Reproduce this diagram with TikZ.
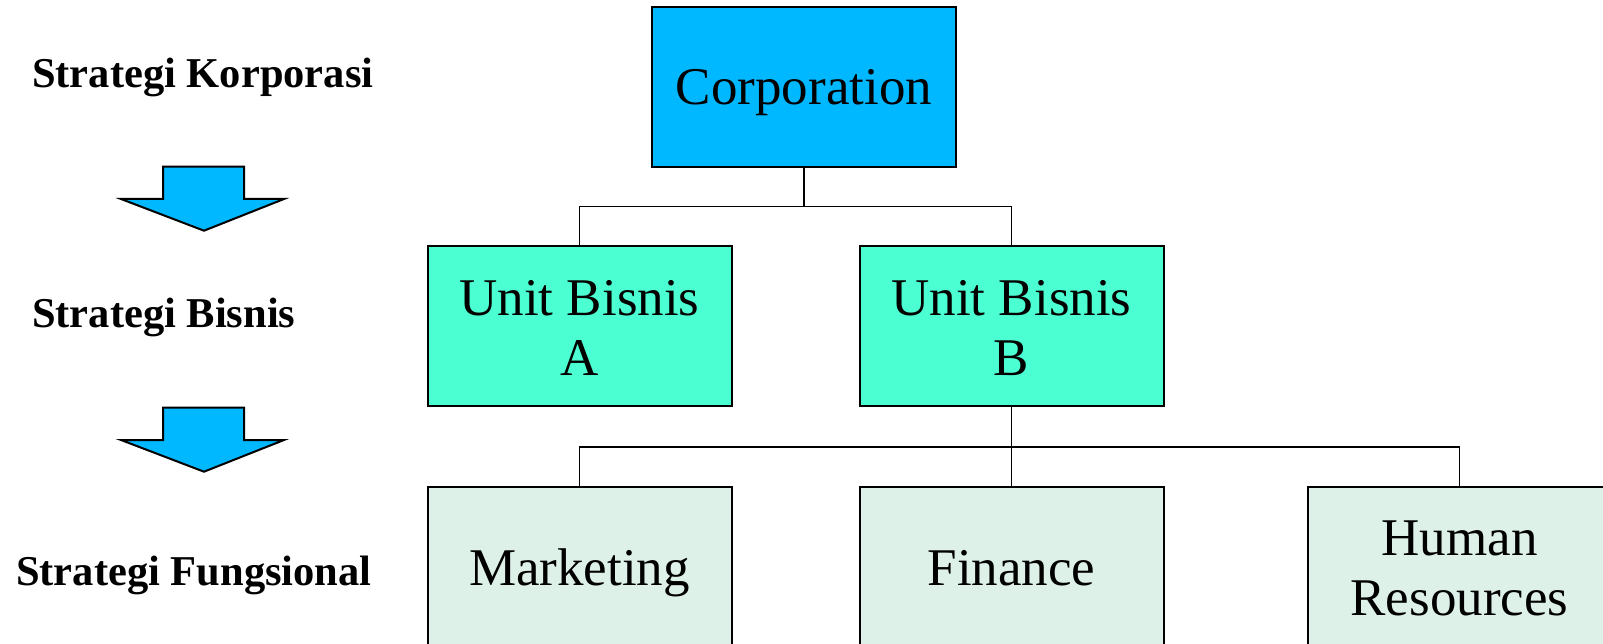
\documentclass[tikz,border=0pt]{standalone}
\usepackage{fontspec}
\setmainfont{Liberation Serif}
\definecolor{corpblue}{RGB}{0,184,255}
\definecolor{unitgreen}{RGB}{75,255,210}
\definecolor{funcgreen}{RGB}{221,241,232}
\begin{document}
\begin{tikzpicture}[x=1pt,y=-1pt,
  box/.style={draw=black,line width=2pt,inner sep=0pt,minimum width=304pt,
    align=center,font=\fontsize{53}{60}\selectfont},
  lvl/.style={anchor=base west,inner sep=0pt,font=\fontsize{42.5}{50}\selectfont\bfseries},
  conn/.style={draw=black,line width=1.6pt},
  bigarrow/.style={fill=corpblue,draw=black,line width=2pt,line join=miter}]
\useasboundingbox (0,0) rectangle (1603,644);
\clip (0,0) rectangle (1603,644);
\fill[white] (0,0) rectangle (1603,644);
% boxes
\node[box,fill=corpblue,minimum height=160pt,text height=36pt,text depth=0pt] (corp) at (804,87) {Corporation};
\node[box,fill=unitgreen,minimum height=160pt,text height=98pt,text depth=0pt] (ua) at (579.5,326) {Unit Bisnis\\A};
\node[box,fill=unitgreen,minimum height=160pt,text height=98pt,text depth=0pt] (ub) at (1011.5,326) {Unit Bisnis\\B};
\node[box,fill=funcgreen,minimum height=200pt,text height=0pt,text depth=4pt] (mk) at (579.5,587) {Marketing};
\node[box,fill=funcgreen,minimum height=200pt,text height=0pt,text depth=4pt] (fin) at (1011.5,587) {Finance};
\node[box,fill=funcgreen,minimum height=200pt,text height=56pt,text depth=0pt] (hr) at (1459.5,587) {Human\\Resources};
% connectors
\coordinate (j1) at (804,206.5);
\coordinate (j2) at (1011.5,447);
\draw[conn] (corp.south) -- (j1);
\draw[conn] (j1) -| (ua.north);
\draw[conn] (j1) -| (ub.north);
\draw[conn] (ub.south) -- (fin.north);
\draw[conn] (j2) -| (mk.north);
\draw[conn] (j2) -| (hr.north);
% level labels
\node[lvl] (lk) at (32,88) {Strategi Korporasi};
\node[lvl] (lb) at (32,327) {Strategi Bisnis};
\node[lvl] (lf) at (16,585) {Strategi Fungsional};
% down arrows
\draw[bigarrow] (163,166.7) -- (244,166.7) -- (244,199) -- (284,199) -- (204,230.7) -- (121,199) -- (163,199) -- cycle;
\draw[bigarrow] (163,407.7) -- (244,407.7) -- (244,440) -- (284,440) -- (204,471.7) -- (121,440) -- (163,440) -- cycle;
\end{tikzpicture}
\end{document}
